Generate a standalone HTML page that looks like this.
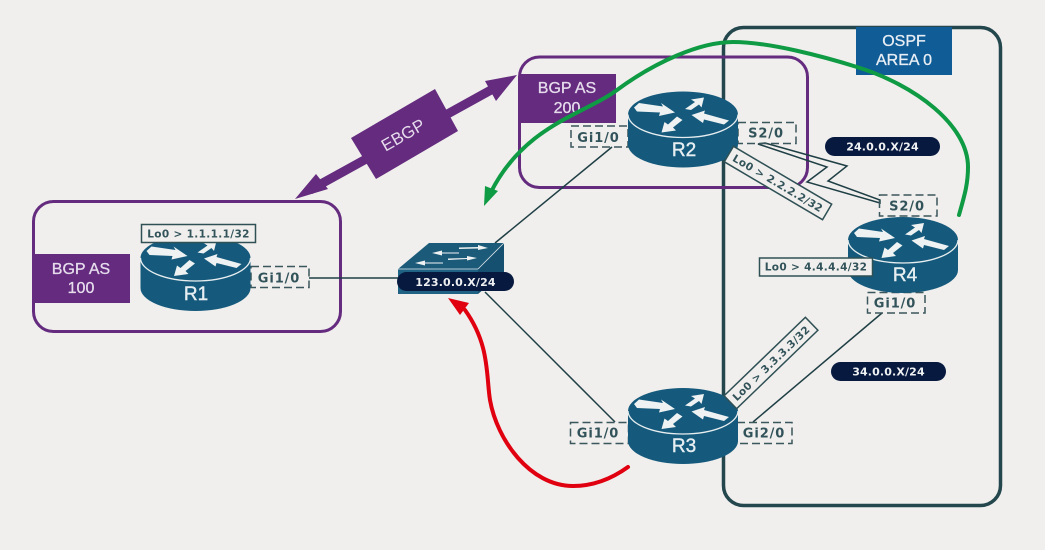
<!DOCTYPE html>
<html><head><meta charset="utf-8"><style>
html,body{margin:0;padding:0;background:#f0efed;width:1045px;height:550px;overflow:hidden}
svg{display:block}
.d{font-family:"DejaVu Sans",sans-serif;font-weight:bold;fill:#33535a}
.g{font-size:13px;letter-spacing:.9px;text-anchor:middle}
.l{font-size:10.5px;text-anchor:middle;letter-spacing:.35px}
.p{font-family:"DejaVu Sans",sans-serif;font-weight:bold;font-size:11px;fill:#eef0f2;text-anchor:middle;letter-spacing:.15px}
.s{font-family:"Liberation Sans",sans-serif;text-anchor:middle}
.b{font-size:16px;fill:#e6dcec;stroke:#e6dcec;stroke-width:.3}
.r{font-size:19px;fill:#e6eef2;stroke:#e6eef2;stroke-width:.4}
.o{font-size:16px;fill:#e8eef4;stroke:#e8eef4;stroke-width:.3}
.w{fill:none;stroke:#1f3f45;stroke-width:1.5}
.dash{fill:none;stroke:#3a575d;stroke-width:1.5;stroke-dasharray:8 4}
.lb{fill:#f0efed;stroke:#2f5055;stroke-width:1.5}
</style></head><body>
<svg width="1045" height="550" viewBox="0 0 1045 550" xmlns="http://www.w3.org/2000/svg">
<defs>
<g id="router">
<path d="M-55,0 V30 A55,23 0 0 0 55,30 V0 Z" fill="#155a7c"/>
<ellipse cx="0" cy="0" rx="55" ry="23" fill="#155a7c"/>
<path d="M-55,0 A55,23 0 0 0 55,0" fill="none" stroke="#e8eef0" stroke-width="1.3"/>
<g fill="#eef2f3">
<polygon points="-49,-7 -44,-11.5 -20,-8 -22,-11.5 -8,-2 -24,1.5 -23,-2 -46,-3"/>
<polygon points="2,-5.5 12,-12.5 8,-15 21,-17 18.5,-7 16,-10 8,-4.5"/>
<polygon points="46,6 41,10 21,5 20,8.5 8.5,.5 22,-4 21,-1"/>
<polygon points="-21.5,18 -18.5,7.5 -15,10 -6,2 -.5,5.5 -10,13 -7,16"/>
</g>
</g>
</defs>
<rect width="1045" height="550" fill="#f0efed"/>

<!-- OSPF area -->
<rect x="723.5" y="27.5" width="277" height="478" rx="20" fill="none" stroke="#24474e" stroke-width="3.5"/>
<rect x="856" y="27" width="96" height="48" fill="#0f5c97"/>
<text class="s o" x="904" y="46">OSPF</text>
<text class="s o" x="904" y="65">AREA 0</text>

<!-- BGP boxes -->
<rect x="33.5" y="201.5" width="307" height="130" rx="20" fill="none" stroke="#642b7f" stroke-width="3"/>
<rect x="33" y="254" width="97" height="49" fill="#642b7f"/>
<text class="s b" x="81" y="274">BGP AS</text>
<text class="s b" x="81" y="293">100</text>

<rect x="519.5" y="57" width="288" height="130.5" rx="20" fill="none" stroke="#642b7f" stroke-width="3"/>
<rect x="519" y="74" width="97" height="49" fill="#642b7f"/>
<text class="s b" x="567" y="93">BGP AS</text>
<text class="s b" x="567" y="113">200</text>

<!-- EBGP -->
<line x1="310" y1="190" x2="500" y2="85" stroke="#642b7f" stroke-width="9"/>
<polygon points="517,75 485,81 496,101" fill="#642b7f"/>
<polygon points="295,199 316,174 328,189" fill="#642b7f"/>
<polygon points="351,138 435,89 458,131 376,179" fill="#642b7f"/>
<text class="s" x="0" y="0" font-size="17" fill="#e6dcec" text-anchor="middle" transform="translate(406,140) rotate(-30)">EBGP</text>

<!-- links -->
<line class="w" x1="309" y1="278" x2="398" y2="278"/>
<line class="w" x1="495" y1="243" x2="612" y2="147"/>
<line class="w" x1="485" y1="292" x2="615" y2="422"/>
<line class="w" x1="753" y1="422" x2="882" y2="313"/>
<polygon points="765,143 847,166 828,181 880,200 880,203 807,182 827,167 758,144" fill="none" stroke="#1f3f45" stroke-width="1.5"/>

<!-- switch -->
<polygon points="398,269 429,243 504,243 478,269" fill="#1b5a78"/>
<polygon points="478,269 504,243 504,272 478,294" fill="#155070"/>
<rect x="398" y="269" width="80" height="25" fill="#1f6283"/>
<line x1="478" y1="269" x2="504" y2="243" stroke="#dfe8ec" stroke-width=".8"/>
<line x1="398" y1="269" x2="478" y2="269" stroke="#dfe8ec" stroke-width=".8"/>
<g fill="#eef2f3">
<polygon points="459,247.5 478,247 478,245 488,248 478,250 478,248.5 459,249"/>
<polygon points="459,252.5 442,252.5 442,250.5 432,253 442,255.5 442,253.5 459,253.5"/>
<polygon points="448,258.5 467,258 467,256 477,258 467,260.5 467,259 448,260"/>
<polygon points="443,262.5 425,262.5 425,260.5 415,263 425,265.5 425,263.5 443,263.5"/>
</g>
<rect x="397" y="272" width="117" height="19" rx="9.5" fill="#07193f"/>
<text class="p" x="455.5" y="286">123.0.0.X/24</text>

<!-- dashed interface labels -->
<rect class="dash" x="251" y="266.5" width="58" height="21"/>
<text class="d g" x="279" y="282.5">Gi1/0</text>
<rect class="dash" x="571" y="126" width="57" height="21"/>
<text class="d g" x="598.5" y="142">Gi1/0</text>
<rect class="dash" x="738" y="122.5" width="58" height="21"/>
<text class="d g" x="766" y="137.5">S2/0</text>
<rect class="dash" x="879.5" y="195" width="57.5" height="21"/>
<text class="d g" x="907" y="210.5">S2/0</text>
<rect class="dash" x="867.5" y="292.5" width="57.5" height="20.5"/>
<text class="d g" x="895" y="307.5">Gi1/0</text>
<rect class="dash" x="570.5" y="422.5" width="58" height="21"/>
<text class="d g" x="598" y="437.5">Gi1/0</text>
<rect class="dash" x="737" y="422.5" width="55" height="21"/>
<text class="d g" x="764" y="437.5">Gi2/0</text>

<!-- routers -->
<use href="#router" x="195.5" y="258"/>
<use href="#router" x="683" y="114.5"/>
<use href="#router" x="683" y="411"/>
<use href="#router" x="903" y="240"/>
<text class="s r" x="196" y="300">R1</text>
<text class="s r" x="684" y="156">R2</text>
<text class="s r" x="684" y="452">R3</text>
<text class="s r" x="905" y="281">R4</text>

<!-- loopback labels -->
<rect class="lb" x="141.5" y="224.5" width="114" height="18"/>
<text class="d l" x="198.5" y="237.5">Lo0 &gt; 1.1.1.1/32</text>
<rect class="lb" x="759.5" y="258" width="113" height="18"/>
<text class="d l" x="816" y="270.5">Lo0 &gt; 4.4.4.4/32</text>
<g transform="translate(778,183) rotate(30.5)">
<rect class="lb" x="-57" y="-9" width="114" height="18"/>
<text class="d l" x="0" y="4">Lo0 &gt; 2.2.2.2/32</text>
</g>
<g transform="translate(771,363) rotate(-44)">
<rect class="lb" x="-56.5" y="-9" width="113" height="18"/>
<text class="d l" x="0" y="4">Lo0 &gt; 3.3.3.3/32</text>
</g>

<!-- pills -->
<rect x="825" y="137" width="115" height="19" rx="9.5" fill="#07193f"/>
<text class="p" x="882.5" y="150.5">24.0.0.X/24</text>
<rect x="831" y="362" width="115" height="19" rx="9.5" fill="#07193f"/>
<text class="p" x="888.5" y="375.5">34.0.0.X/24</text>

<!-- green curve -->
<path d="M959,215 C964,197 968,185 968,167 C968,125 915,85 857,67 C825,57 770,42 733,42 C700,42 655,62 617,90 C583,115 525,125 491,192" fill="none" stroke="#0f9a44" stroke-width="4" stroke-linecap="round"/>
<polygon points="484,206 485,186 498,191" fill="#0f9a44"/>

<!-- red curve -->
<path d="M628,467 C610,480 592,486 573,486 C530,486 497,440 490,400 C486,375 490,345 465,310" fill="none" stroke="#e0000f" stroke-width="4" stroke-linecap="round"/>
<polygon points="448,298 469,303 460,315" fill="#e0000f"/>
</svg>
</body></html>
